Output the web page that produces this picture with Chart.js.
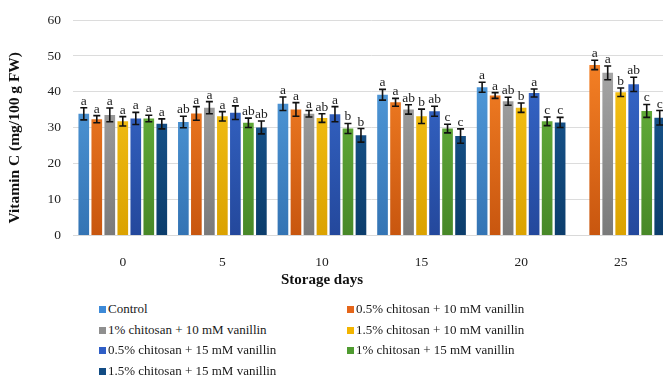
<!DOCTYPE html>
<html>
<head>
<meta charset="utf-8">
<script src="https://cdn.jsdelivr.net/npm/chart.js@4.4.1/dist/chart.umd.min.js"></script>
<style>
  html, body { margin: 0; padding: 0; background: #fff; overflow: hidden; }
  #wrap { position: relative; width: 672px; height: 376px; }
  #box { position: absolute; left: 0; top: 0; width: 672px; height: 300px; }
  #xtitle { position: absolute; left: 222px; width: 200px; top: 271px; text-align: center;
            font: bold 15px "Liberation Serif", serif; color: #111; }
  .legend { position: absolute; left: 0; top: 301px; width: 672px; }
  .legend-item { position: absolute; height: 20px; line-height: 20px; white-space: nowrap;
                 font: 13px "Liberation Serif", serif; color: #1a1a1a; }
  .legend-color { display: inline-block; width: 7px; height: 7px; margin-right: 2px; vertical-align: 0px; }
</style>
</head>
<body>
<div id="wrap">
  <div id="box"><canvas id="c"></canvas></div>
  <div id="xtitle">Storage days</div>
  <div class="legend"></div>
</div>
<script>
const days = ['0', '5', '10', '15', '20', '25'];
const seriesNames = ['Control', '0.5% chitosan + 10 mM vanillin', '1% chitosan + 10 mM vanillin',
  '1.5% chitosan + 10 mM vanillin', '0.5% chitosan + 15 mM vanillin', '1% chitosan + 15 mM vanillin',
  '1.5% chitosan + 15 mM vanillin'];

const control = [33.9, 31.6, 36.7, 39.2, 41.3, null];
const ch05v10 = [32.4, 34.0, 35.1, 37.1, 39.0, 47.5];
const ch1v10 = [33.6, 35.6, 33.9, 35.1, 37.4, 45.3];
const ch15v10 = [31.8, 33.2, 32.7, 33.2, 35.6, 39.9];
const ch05v15 = [32.6, 34.2, 33.8, 34.6, 39.7, 42.1];
const ch1v15 = [32.6, 31.4, 29.8, 29.8, 31.8, 34.7];
const ch15v15 = [31.1, 30.1, 27.9, 27.7, 31.5, 32.8];

const controlErr = [1.7, 1.6, 1.9, 1.5, 1.4, null];
const ch05v10Err = [1.0, 1.9, 1.9, 1.1, 0.8, 1.3];
const ch1v10Err = [1.9, 1.7, 0.9, 1.3, 1.1, 1.9];
const ch15v10Err = [1.3, 1.3, 1.2, 2.0, 1.3, 1.2];
const ch05v15Err = [1.7, 1.9, 2.1, 1.4, 1.1, 2.0];
const ch1v15Err = [0.9, 1.3, 1.4, 1.2, 1.2, 1.8];
const ch15v15Err = [1.4, 1.8, 1.9, 2.0, 1.4, 2.0];

const controlLetters = ['a', 'ab', 'a', 'a', 'a', ''];
const ch05v10Letters = ['a', 'a', 'a', 'a', 'a', 'a'];
const ch1v10Letters = ['a', 'a', 'a', 'ab', 'ab', 'a'];
const ch15v10Letters = ['a', 'a', 'ab', 'b', 'b', 'b'];
const ch05v15Letters = ['a', 'a', 'a', 'ab', 'a', 'ab'];
const ch1v15Letters = ['a', 'ab', 'b', 'c', 'c', 'c'];
const ch15v15Letters = ['a', 'ab', 'b', 'c', 'c', 'c'];

const yTicks = [0, 10, 20, 30, 40, 50, 60];

// gradient top / bottom and the flat legend colour
const gradTop = ['#5aa6e6', '#ff8a2a', '#b2b2b2', '#ffcd1e', '#3b70d6', '#72c142', '#1e619e'];
const gradBottom = ['#3474b4', '#c8560f', '#7a7a7a', '#dba200', '#24489c', '#488828', '#0c3d6c'];
const legendColors = ['#3d8ad8', '#e5661a', '#8f8f8f', '#f2b400', '#2f5ec6', '#4f9b30', '#124c84'];

const values = [control, ch05v10, ch1v10, ch15v10, ch05v15, ch1v15, ch15v15];
const errors = [controlErr, ch05v10Err, ch1v10Err, ch15v10Err, ch05v15Err, ch1v15Err, ch15v15Err];
const letters = [controlLetters, ch05v10Letters, ch1v10Letters, ch15v10Letters, ch05v15Letters, ch1v15Letters, ch15v15Letters];

const serif = '"Liberation Serif", "Times New Roman", serif';

function barGradient(i) {
  return (ctx) => {
    const area = ctx.chart.chartArea;
    if (!area) return legendColors[i];
    const g = ctx.chart.ctx.createLinearGradient(0, area.top, 0, area.bottom);
    g.addColorStop(0, gradTop[i]);
    g.addColorStop(1, gradBottom[i]);
    return g;
  };
}

const errorBars = {
  id: 'errorBars',
  afterDatasetsDraw(chart) {
    const ctx = chart.ctx;
    const y = chart.scales.y;
    ctx.save();
    chart.data.datasets.forEach((ds, i) => {
      const meta = chart.getDatasetMeta(i);
      meta.data.forEach((bar, j) => {
        const v = ds.data[j];
        const e = errors[i][j];
        if (v == null) return;
        const top = y.getPixelForValue(v + e);
        const bot = y.getPixelForValue(v - e);
        ctx.strokeStyle = '#111';
        ctx.lineWidth = 1.6;
        ctx.beginPath();
        ctx.moveTo(bar.x, top); ctx.lineTo(bar.x, bot);
        ctx.moveTo(bar.x - 3.5, top); ctx.lineTo(bar.x + 3.5, top);
        ctx.moveTo(bar.x - 3.5, bot); ctx.lineTo(bar.x + 3.5, bot);
        ctx.stroke();
        ctx.fillStyle = '#222';
        ctx.font = '13.5px ' + serif;
        ctx.textAlign = 'center';
        ctx.textBaseline = 'alphabetic';
        ctx.fillText(letters[i][j], bar.x, top - 3);
      });
    });
    ctx.restore();
  }
};

// y title drawn by hand: it sits a little below the middle of the axis in the original
const yTitle = {
  id: 'yTitle',
  afterDraw(chart) {
    const ctx = chart.ctx;
    const area = chart.chartArea;
    ctx.save();
    ctx.translate(15, (area.top + area.bottom) / 2 + 10);
    ctx.rotate(-Math.PI / 2);
    ctx.font = 'bold 15.5px ' + serif;
    ctx.fillStyle = '#111';
    ctx.textAlign = 'center';
    ctx.textBaseline = 'middle';
    ctx.fillText('Vitamin C (mg/100 g FW)', 0, 0);
    ctx.restore();
  }
};

const chart = new Chart(document.getElementById('c').getContext('2d'), {
  type: 'bar',
  data: {
    labels: days,
    datasets: values.map((d, i) => ({
      label: seriesNames[i],
      data: d,
      backgroundColor: barGradient(i),
      borderWidth: 0,
      categoryPercentage: 0.914,
      barPercentage: 0.82
    }))
  },
  options: {
    responsive: true,
    maintainAspectRatio: false,
    animation: false,
    layout: { padding: { top: 19, right: 1.5, left: 0, bottom: 0 } },
    plugins: { legend: { display: false }, tooltip: { enabled: false } },
    scales: {
      x: {
        grid: { display: false },
        border: { display: true, color: '#d9d9d9', width: 1 },
        ticks: { font: { family: serif, size: 13.5 }, color: '#222', padding: 11 },
        afterFit: (s) => { s.height = 64.5; }
      },
      y: {
        min: 0,
        max: 60,
        afterBuildTicks: (s) => { s.ticks = yTicks.map(v => ({ value: v })); },
        grid: { color: '#dcdcdc', drawTicks: false, lineWidth: 1 },
        border: { display: false },
        ticks: { font: { family: serif, size: 13.5 }, color: '#222', padding: 12 },
        afterFit: (s) => { s.width = 73; }
      }
    }
  },
  plugins: [errorBars, yTitle]
});

function createCustomLegend() {
  const legendContainer = document.querySelector('.legend');
  legendContainer.innerHTML = chart.data.datasets.map((ds, index) => {
    const col = index % 2, row = Math.floor(index / 2);
    const left = col === 0 ? 99 : 347;
    const top = row * 20.5;
    return `<div class="legend-item" style="left:${left}px; top:${top}px;">
        <span class="legend-color" style="background-color:${legendColors[index]};"></span><span class="legend-label">${ds.label}</span>
      </div>`;
  }).join('');
}
createCustomLegend();
</script>
</body>
</html>
